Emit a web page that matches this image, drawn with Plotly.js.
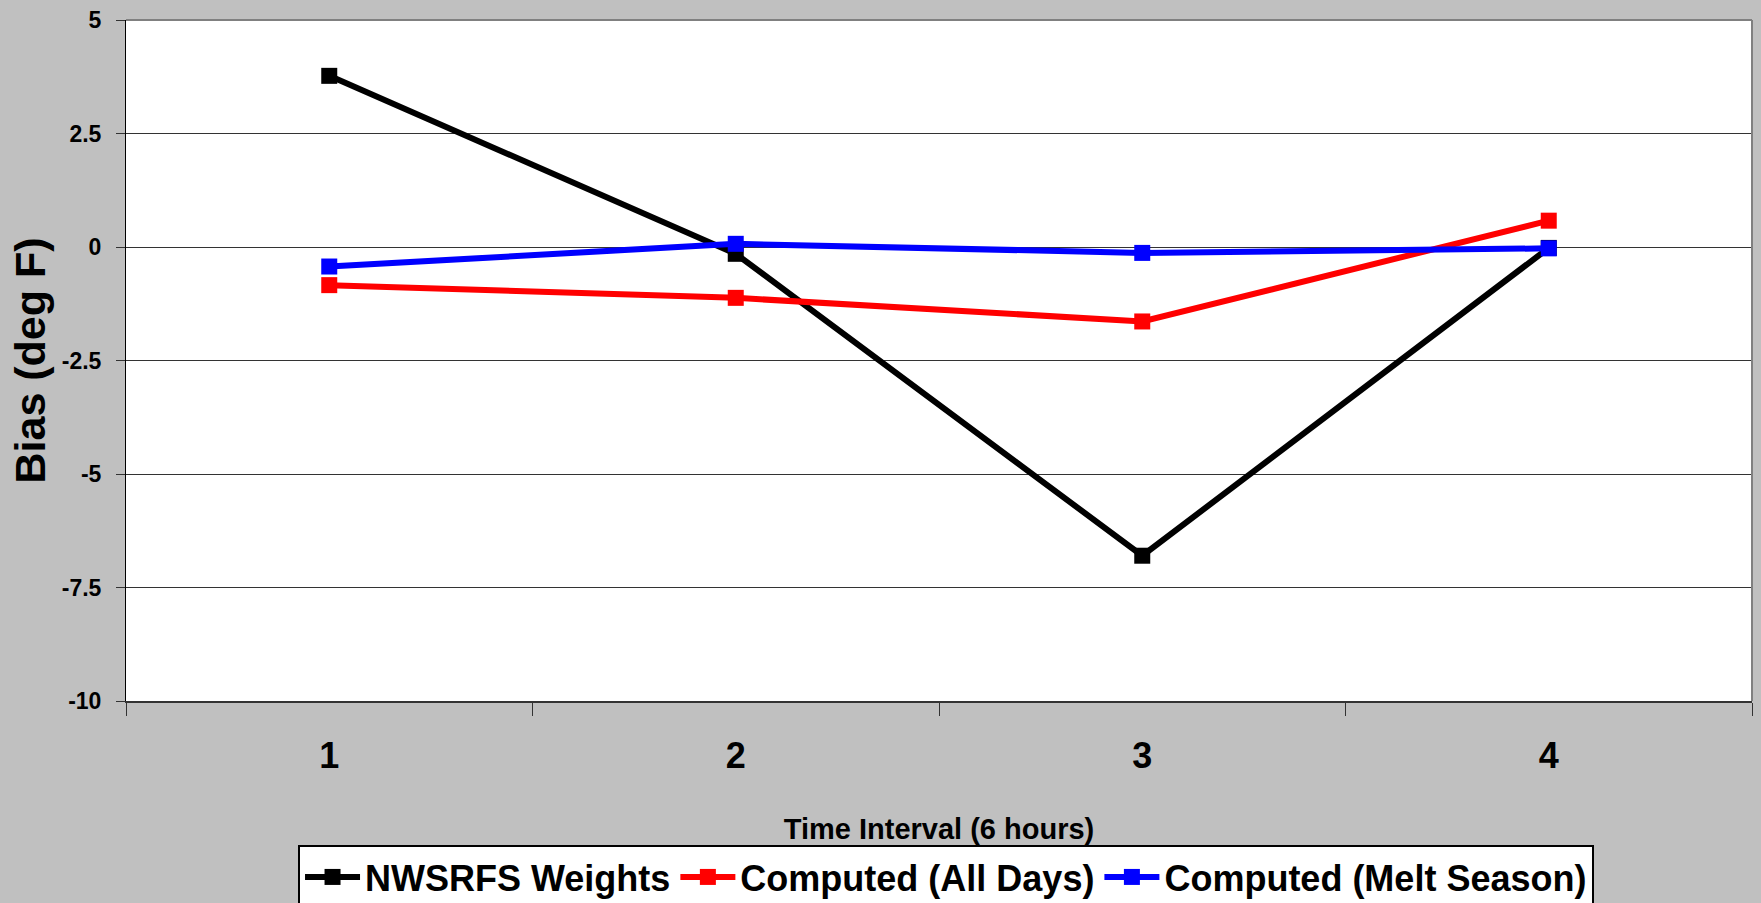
<!DOCTYPE html>
<html>
<head>
<meta charset="utf-8">
<script src="https://cdn.plot.ly/plotly-3.0.1.min.js"></script>
<style>
  html, body { margin: 0; padding: 0; background: #c0c0c0; }
  #chart { width: 1761px; height: 903px; }
</style>
</head>
<body>
<div id="chart"></div>
<script>
// Time intervals (6-hour steps)
const intervals = ['1', '2', '3', '4'];

// Temperature bias by interval, deg F
const nwsrfsWeights = [3.77, -0.15, -6.8, -0.02];
const computedAllDays = [-0.84, -1.12, -1.64, 0.58];
const computedMeltSeason = [-0.43, 0.07, -0.13, -0.03];

// Y axis ticks
const yTickVals = [5, 2.5, 0, -2.5, -5, -7.5, -10];
const yTickText = ['5', '2.5', '0', '-2.5', '-5', '-7.5', '-10'];

const sans = '"Liberation Sans", Arial, sans-serif';

function series(name, values, color) {
  return {
    type: 'scatter',
    mode: 'lines+markers',
    name: name,
    x: intervals,
    y: values,
    line: { color: color, width: 6 },
    marker: { symbol: 'square', size: 16, color: color },
    cliponaxis: false
  };
}

const traces = [
  series('NWSRFS Weights', nwsrfsWeights, '#000000'),
  series('Computed (All Days)', computedAllDays, '#ff0000'),
  series('Computed (Melt Season)', computedMeltSeason, '#0000ff')
];

const layout = {
  width: 1761,
  height: 903,
  paper_bgcolor: '#c0c0c0',
  plot_bgcolor: '#ffffff',
  margin: { l: 126, r: 9, t: 20, b: 202, autoexpand: false },
  showlegend: true,
  xaxis: {
    type: 'category',
    range: [-0.5, 3.5],
    tickson: 'boundaries',
    ticks: 'outside',
    ticklen: 13,
    tickcolor: '#333333',
    tickwidth: 1,
    showgrid: false,
    showline: true,
    linecolor: '#333333',
    linewidth: 2,
    ticklabelstandoff: 22,
    tickfont: { family: sans, size: 36, color: '#000000', weight: 'bold' },
    title: {
      text: 'Time Interval (6 hours)',
      font: { family: sans, size: 29, color: '#000000', weight: 'bold' },
      standoff: 43
    },
    fixedrange: true
  },
  yaxis: {
    range: [-10, 5],
    tickvals: yTickVals,
    ticktext: yTickText,
    ticks: 'outside',
    ticklen: 9,
    tickcolor: '#333333',
    showgrid: true,
    gridcolor: '#333333',
    gridwidth: 1,
    zeroline: false,
    showline: true,
    linecolor: '#000000',
    linewidth: 1,
    ticklabelstandoff: 10,
    tickfont: { family: sans, size: 23, color: '#000000', weight: 'bold' },
    title: {
      text: 'Bias (deg F)',
      font: { family: sans, size: 43, color: '#000000', weight: 'bold' },
      standoff: 2
    },
    fixedrange: true
  },
  legend: {
    orientation: 'h',
    x: 0.1058,
    xanchor: 'left',
    y: -0.2115,
    yanchor: 'top',
    bgcolor: '#ffffff',
    bordercolor: '#000000',
    borderwidth: 2,
    itemwidth: 55,
    font: { family: sans, size: 36, color: '#000000', weight: 'bold' }
  },
  shapes: [
    { type: 'line', xref: 'paper', yref: 'paper', x0: 0, x1: 1, y0: 1, y1: 1,
      line: { color: '#808080', width: 2 } },
    { type: 'line', xref: 'paper', yref: 'paper', x0: 1, x1: 1, y0: 0, y1: 1,
      line: { color: '#808080', width: 2 } }
  ]
};

Plotly.newPlot('chart', traces, layout, { staticPlot: true, displayModeBar: false });
</script>
</body>
</html>
